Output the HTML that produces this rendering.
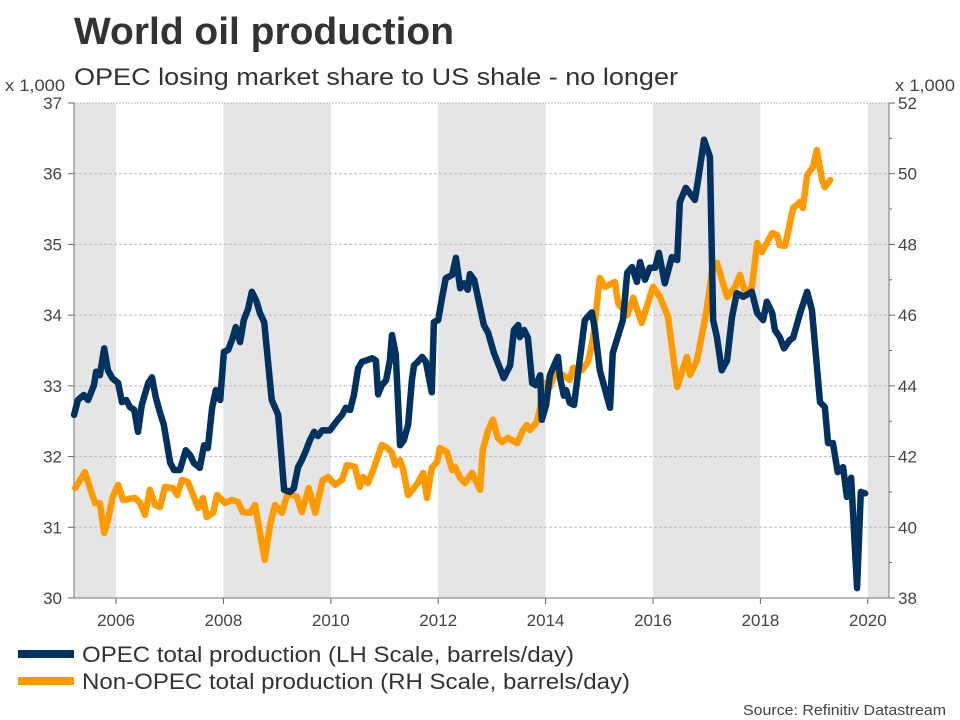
<!DOCTYPE html>
<html><head><meta charset="utf-8"><style>
html,body{margin:0;padding:0;background:#fff;}
svg{display:block;font-family:"Liberation Sans",sans-serif;}
</style></head><body>
<svg id="chart" width="960" height="720" viewBox="0 0 960 720">
<text x="74" y="44" font-size="38" font-weight="bold" fill="#333" textLength="380" lengthAdjust="spacingAndGlyphs">World oil production</text>
<text x="74" y="85" font-size="24" fill="#333" textLength="604" lengthAdjust="spacingAndGlyphs">OPEC losing market share to US shale - no longer</text>
<text x="5" y="91" font-size="17" fill="#444" textLength="60" lengthAdjust="spacingAndGlyphs">x 1,000</text>
<text x="895" y="91" font-size="17" fill="#444" textLength="60" lengthAdjust="spacingAndGlyphs">x 1,000</text>
<g id="bands"></g><g id="grid"></g><g id="axes"></g><g id="series"></g>
<line x1="18" y1="654" x2="74" y2="654" stroke="#00325f" stroke-width="8"/>
<text x="82" y="662" font-size="22" fill="#333" textLength="492" lengthAdjust="spacingAndGlyphs">OPEC total production (LH Scale, barrels/day)</text>
<line x1="18" y1="681" x2="74" y2="681" stroke="#ff9a00" stroke-width="8"/>
<text x="82" y="689" font-size="22" fill="#333" textLength="548" lengthAdjust="spacingAndGlyphs">Non-OPEC total production (RH Scale, barrels/day)</text>
<text x="946" y="715" font-size="15" fill="#444" text-anchor="end" textLength="203" lengthAdjust="spacingAndGlyphs">Source: Refinitiv Datastream</text>
</svg>
<script>
const opecYears=[2005.22,2005.29,2005.40,2005.48,2005.59,2005.63,2005.70,2005.78,2005.85,2005.93,2006.04,2006.11,2006.19,2006.26,2006.34,2006.41,2006.48,2006.60,2006.67,2006.74,2006.82,2006.89,2007.01,2007.08,2007.19,2007.30,2007.38,2007.45,2007.56,2007.64,2007.71,2007.79,2007.86,2007.94,2008.01,2008.09,2008.16,2008.23,2008.31,2008.38,2008.46,2008.53,2008.61,2008.68,2008.76,2008.90,2009.02,2009.13,2009.24,2009.31,2009.39,2009.46,2009.54,2009.61,2009.69,2009.76,2009.84,2009.98,2010.06,2010.13,2010.21,2010.28,2010.36,2010.43,2010.51,2010.58,2010.66,2010.77,2010.84,2010.88,2010.95,2011.03,2011.10,2011.14,2011.21,2011.29,2011.36,2011.44,2011.51,2011.55,2011.62,2011.70,2011.77,2011.88,2011.92,2012.00,2012.07,2012.14,2012.26,2012.33,2012.41,2012.48,2012.55,2012.59,2012.67,2012.85,2012.93,2013.04,2013.15,2013.22,2013.34,2013.41,2013.49,2013.52,2013.60,2013.67,2013.75,2013.82,2013.90,2013.93,2014.01,2014.08,2014.16,2014.23,2014.27,2014.34,2014.38,2014.45,2014.53,2014.60,2014.73,2014.86,2014.92,2015.01,2015.20,2015.25,2015.44,2015.52,2015.61,2015.70,2015.76,2015.85,2015.94,2016.04,2016.11,2016.22,2016.35,2016.45,2016.50,2016.61,2016.78,2016.84,2016.95,2017.06,2017.12,2017.19,2017.28,2017.38,2017.47,2017.56,2017.68,2017.84,2017.94,2018.05,2018.12,2018.22,2018.27,2018.36,2018.44,2018.55,2018.61,2018.74,2018.87,2018.96,2019.11,2019.20,2019.26,2019.35,2019.44,2019.54,2019.61,2019.69,2019.80,2019.87,2019.95];
const opecValues=[32.59,32.80,32.87,32.80,33.01,33.20,33.15,33.53,33.22,33.11,33.04,32.77,32.80,32.70,32.66,32.35,32.73,33.04,33.12,32.84,32.62,32.45,31.91,31.81,31.81,32.09,32.02,31.91,31.84,32.16,32.12,32.69,32.94,32.80,33.48,33.51,33.65,33.83,33.62,33.93,34.09,34.33,34.21,34.03,33.90,32.80,32.59,31.53,31.50,31.55,31.85,31.95,32.09,32.23,32.35,32.29,32.37,32.37,32.45,32.52,32.59,32.69,32.66,32.87,33.25,33.34,33.36,33.39,33.36,32.88,33.01,33.08,33.36,33.72,33.44,32.16,32.23,32.45,33.08,33.29,33.34,33.41,33.34,32.91,33.90,33.93,34.24,34.52,34.57,34.81,34.38,34.45,34.36,34.58,34.50,33.86,33.75,33.46,33.25,33.11,33.29,33.79,33.86,33.69,33.79,33.68,33.04,33.01,33.15,32.52,32.73,33.15,33.29,33.41,33.11,32.86,32.94,32.76,32.73,33.15,33.93,34.04,33.79,33.22,32.69,33.46,33.93,34.60,34.68,34.47,34.75,34.50,34.67,34.67,34.88,34.45,34.82,34.78,35.60,35.80,35.63,35.91,36.48,36.24,33.93,33.69,33.22,33.36,33.97,34.31,34.26,34.33,34.03,33.93,34.19,34.03,33.79,33.69,33.53,33.65,33.68,34.03,34.33,34.07,32.77,32.70,32.19,32.19,31.78,31.85,31.43,31.70,30.14,31.50,31.48];
const nonYears=[2005.24,2005.42,2005.61,2005.70,2005.78,2005.85,2005.94,2006.04,2006.13,2006.35,2006.45,2006.54,2006.63,2006.73,2006.82,2006.91,2007.06,2007.14,2007.23,2007.34,2007.53,2007.62,2007.69,2007.81,2007.88,2008.03,2008.16,2008.27,2008.36,2008.50,2008.59,2008.77,2008.87,2008.96,2009.09,2009.20,2009.37,2009.46,2009.59,2009.71,2009.85,2009.95,2010.08,2010.21,2010.30,2010.45,2010.54,2010.60,2010.69,2010.79,2010.95,2011.06,2011.14,2011.20,2011.29,2011.34,2011.44,2011.62,2011.72,2011.79,2011.88,2011.98,2012.03,2012.16,2012.26,2012.31,2012.41,2012.50,2012.63,2012.72,2012.78,2012.83,2012.93,2013.02,2013.11,2013.19,2013.30,2013.47,2013.58,2013.65,2013.71,2013.84,2013.90,2013.95,2014.08,2014.17,2014.32,2014.45,2014.51,2014.68,2014.79,2014.88,2015.01,2015.11,2015.29,2015.35,2015.52,2015.63,2015.79,2016.00,2016.13,2016.28,2016.45,2016.63,2016.69,2016.82,2017.00,2017.10,2017.19,2017.38,2017.53,2017.62,2017.71,2017.84,2017.94,2018.03,2018.22,2018.31,2018.36,2018.46,2018.61,2018.74,2018.79,2018.87,2018.98,2019.05,2019.15,2019.20,2019.30];
const nonValues=[41.11,41.56,40.68,40.68,39.84,40.21,40.86,41.20,40.77,40.83,40.69,40.35,41.06,40.63,40.57,41.14,41.11,40.91,41.34,41.28,40.55,40.83,40.29,40.41,40.91,40.69,40.77,40.72,40.43,40.41,40.63,39.08,40.07,40.63,40.41,40.97,40.86,40.43,41.11,40.41,41.34,41.42,41.20,41.34,41.76,41.71,41.14,41.42,41.25,41.62,42.33,42.24,42.10,41.76,41.90,41.68,40.91,41.25,41.54,40.83,41.68,41.85,42.24,42.13,41.62,41.71,41.40,41.25,41.54,41.25,41.06,42.19,42.75,43.04,42.53,42.41,42.53,42.38,42.75,42.89,42.75,42.98,43.40,44.11,43.97,44.36,44.31,44.17,44.51,44.45,44.68,45.30,47.05,46.80,46.94,46.34,46.00,46.49,45.78,46.80,46.51,45.95,43.97,44.82,44.31,44.73,46.15,47.28,47.48,46.51,46.80,47.14,46.66,46.77,48.04,47.79,48.32,48.27,47.98,47.96,49.03,49.20,49.03,49.96,50.19,50.67,49.82,49.62,49.82];
const leftTicks=[30,31,32,33,34,35,36,37];
const rightTicks=[38,40,42,44,46,48,50,52];
const yearTicks=[2006,2008,2010,2012,2014,2016,2018,2020];
const bandStarts=[2005.2,2008,2012,2016,2020];
const bandEnds=[2006,2010,2014,2018,2020.4];

const X0=74,X1=889,Y0=103,Y1=598;
function xs(y){return 116+(y-2006)*53.7;}
function xc(y){return Math.max(X0,Math.min(X1,xs(y)));}
function yl(v){return Y1-(v-30)/(37-30)*(Y1-Y0);}
function yr(v){return Y1-(v-38)/(52-38)*(Y1-Y0);}
const NS='http://www.w3.org/2000/svg';
function mk(tag,parent,attrs){const e=document.createElementNS(NS,tag);for(const k in attrs)e.setAttribute(k,attrs[k]);document.getElementById(parent).appendChild(e);return e;}

bandStarts.forEach((s,i)=>{
  const r=mk('rect','bands',{x:xc(s),y:Y0,width:xc(bandEnds[i])-xc(s),height:Y1-Y0,fill:'#e5e5e5'});
  
  
});
leftTicks.forEach(v=>{
  const y=yl(v);
  if(v>30){const g=mk('line','grid',{x1:X0,x2:X1,y1:y,y2:y,stroke:'#bbb','stroke-width':1,'stroke-dasharray':v===37?'2,1':'3,2'});
  
  }
  mk('line','axes',{x1:X0-6,x2:X0,y1:y,y2:y,stroke:'#666'});
  const t=mk('text','axes',{x:X0-12,y:y+6,'font-size':17,fill:'#444','text-anchor':'end'});t.textContent=v;
  
  
});
rightTicks.forEach(v=>{
  const y=yr(v);
  mk('line','axes',{x1:X1,x2:X1+6,y1:y,y2:y,stroke:'#666'});
  if(v<52) mk('line','axes',{x1:X1,x2:X1+3,y1:yr(v+1),y2:yr(v+1),stroke:'#666'});
  const t=mk('text','axes',{x:X1+9,y:y+6,'font-size':17,fill:'#444'});t.textContent=v;
  
  
});
yearTicks.forEach(yv=>{
  const x=xs(yv);
  mk('line','axes',{x1:x,x2:x,y1:Y1,y2:Y1+6,stroke:'#666'});
  const t=mk('text','axes',{x:x,y:Y1+28,'font-size':17,fill:'#444','text-anchor':'middle'});t.textContent=yv;
  
  
});
const la=mk('line','axes',{x1:X0,x2:X0,y1:Y0,y2:Y1,stroke:'#777'});


const ra=mk('line','axes',{x1:X1,x2:X1,y1:Y0,y2:Y1,stroke:'#777'});


const ba=mk('line','axes',{x1:X0,x2:X1,y1:Y1,y2:Y1,stroke:'#777'});



const pn=mk('polyline','series',{points:nonYears.map((y,i)=>xs(y)+','+yr(nonValues[i])).join(' '),fill:'none',stroke:'#ff9a00','stroke-width':6.5,'stroke-linejoin':'round','stroke-linecap':'round'});


const po=mk('polyline','series',{points:opecYears.map((y,i)=>xs(y)+','+yl(opecValues[i])).join(' '),fill:'none',stroke:'#00325f','stroke-width':6.5,'stroke-linejoin':'round','stroke-linecap':'round'});


</script>
</body></html>
